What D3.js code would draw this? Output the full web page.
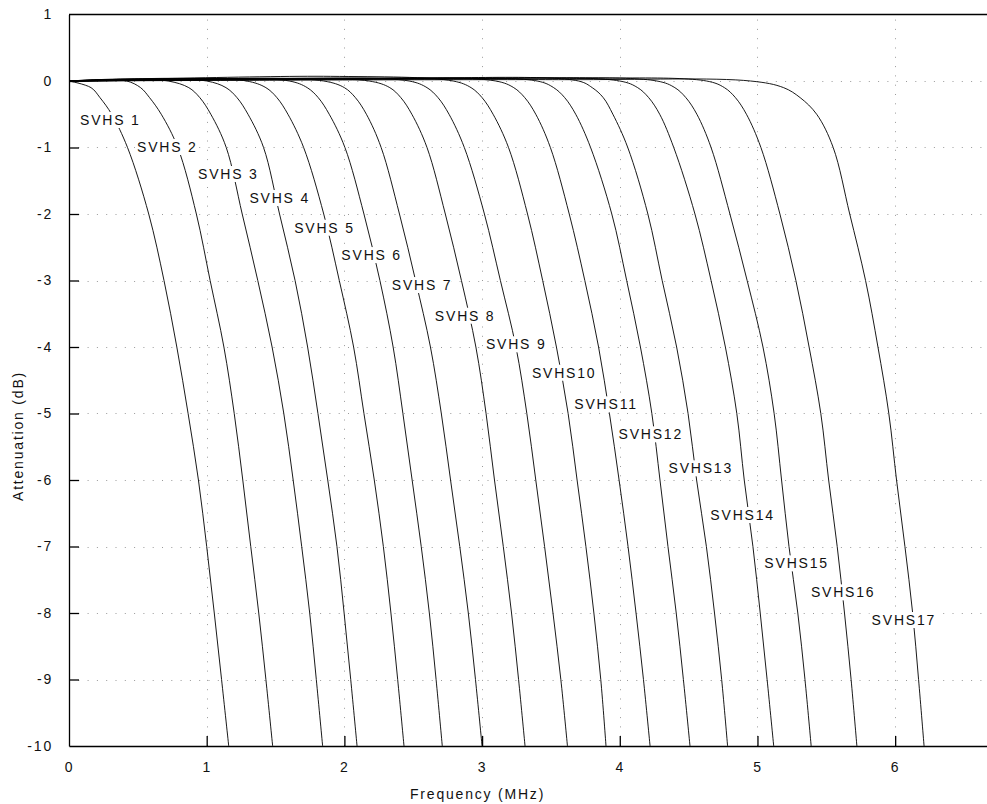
<!DOCTYPE html>
<html>
<head>
<meta charset="utf-8">
<script src="https://cdn.jsdelivr.net/npm/d3@7"></script>
<style>
  body { margin: 0; background: #fff; }
  text { font-family: "Liberation Sans", Arial, sans-serif; font-size: 14px; letter-spacing: 1.8px; fill: #111; }
</style>
</head>
<body>
<svg width="987" height="804"></svg>
<script>
var levels = [0, -0.1, -0.25, -0.5, -1, -2, -3, -4, -5, -6, -7, -8, -9, -10];

var names = ["SVHS 1", "SVHS 2", "SVHS 3", "SVHS 4", "SVHS 5", "SVHS 6", "SVHS 7", "SVHS 8", "SVHS 9",
             "SVHS10", "SVHS11", "SVHS12", "SVHS13", "SVHS14", "SVHS15", "SVHS16", "SVHS17"];

// frequency (MHz) where each filter curve crosses each level above
var crossings = [
  [0,    0.16, 0.225, 0.31, 0.425, 0.579, 0.69,  0.783, 0.865, 0.94,  1.0,   1.055, 1.108, 1.16],
  [0.42, 0.52, 0.585, 0.67, 0.79,  0.925, 1.025, 1.125, 1.2,   1.262, 1.32,  1.378, 1.43,  1.479],
  [0.72, 0.87, 0.95,  1.03, 1.142, 1.258, 1.371, 1.475, 1.56,  1.628, 1.69,  1.748, 1.796, 1.842],
  [1.0,  1.14, 1.22,  1.30, 1.413, 1.529, 1.642, 1.733, 1.808, 1.879, 1.946, 1.998, 2.046, 2.092],
  [1.29, 1.43, 1.51,  1.59, 1.704, 1.85,  1.963, 2.067, 2.142, 2.217, 2.283, 2.338, 2.387, 2.433],
  [1.6,  1.73, 1.81,  1.89, 2.004, 2.142, 2.258, 2.354, 2.425, 2.492, 2.558, 2.617, 2.666, 2.711],
  [1.85, 2.0,  2.08,  2.16, 2.267, 2.4,   2.517, 2.625, 2.704, 2.771, 2.838, 2.9,   2.952, 3.0],
  [2.18, 2.33, 2.41,  2.49, 2.6,   2.733, 2.85,  2.955, 3.029, 3.09,  3.154, 3.214, 3.265, 3.312],
  [2.47, 2.6,  2.68,  2.76, 2.871, 3.017, 3.133, 3.246, 3.325, 3.39,  3.454, 3.515, 3.572, 3.62],
  [2.79, 2.92, 3.0,   3.08, 3.192, 3.33,  3.44,  3.54,  3.625, 3.69,  3.754, 3.812, 3.862, 3.90],
  [3.1,  3.23, 3.31,  3.39, 3.496, 3.633, 3.746, 3.846, 3.925, 3.995, 4.06,  4.118, 4.172, 4.22],
  [3.4,  3.52, 3.6,   3.68, 3.788, 3.942, 4.05,  4.15,  4.233, 4.292, 4.35,  4.41,  4.462, 4.51],
  [3.7,  3.8,  3.88,  3.95, 4.058, 4.204, 4.308, 4.413, 4.496, 4.558, 4.629, 4.688, 4.74,  4.783],
  [4.0,  4.13, 4.21,  4.29, 4.392, 4.546, 4.663, 4.767, 4.85,  4.904, 4.967, 5.02,  5.07,  5.118],
  [4.27, 4.4,  4.48,  4.56, 4.663, 4.8,   4.925, 5.04,  5.121, 5.175, 5.229, 5.293, 5.345, 5.39],
  [4.63, 4.76, 4.84,  4.92, 5.025, 5.163, 5.279, 5.375, 5.46,  5.517, 5.579, 5.632, 5.68,  5.722],
  [4.95, 5.19, 5.31,  5.43, 5.55,  5.67,  5.785, 5.875, 5.954, 6.01,  6.071, 6.127, 6.17,  6.21]
];

// small passband ripple before each knee
var peakFreq = [null, 0.25, 0.4, 0.55, 0.75, 0.95, 1.1, 1.3, 1.5, 1.9, 1.9, 2.1, 2.3, 2.5, 2.9, 3.2, 3.6];
var peakDb   = [null, 0.02, 0.03, 0.03, 0.04, 0.03, 0.04, 0.03, 0.04, 0.07, 0.04, 0.03, 0.04, 0.03, 0.04, 0.03, 0.02];

// where the curve labels sit (MHz, dB)
var labelFreq = [0.080, 0.494, 0.937, 1.310, 1.635, 1.978, 2.344, 2.657, 3.028, 3.362, 3.670, 3.991, 4.354, 4.658, 5.050, 5.388, 5.829];
var labelDb   = [-0.586, -0.992, -1.398, -1.759, -2.206, -2.617, -3.068, -3.529, -3.959, -4.386, -4.862, -5.313, -5.824, -6.526, -7.253, -7.689, -8.105];

var xTicks = [0, 1, 2, 3, 4, 5, 6];
var yTicks = [1, 0, -1, -2, -3, -4, -5, -6, -7, -8, -9, -10];

var svg = d3.select("svg"),
    plotLeft = 69, plotRight = 987, plotTop = 14.5, plotBottom = 746;

var x = d3.scaleLinear().domain([0, 6.667]).range([plotLeft, plotRight]);
var y = d3.scaleLinear().domain([1, -10]).range([plotTop, plotBottom]);

// dotted grid
var grid = svg.append("g")
    .attr("stroke", "#9a9a9a")
    .attr("stroke-width", 1)
    .attr("stroke-dasharray", "1,8.3");

grid.selectAll(".vx")
    .data(xTicks.filter(function(d) { return d > 0; }))
    .enter().append("line")
    .attr("x1", function(d) { return Math.round(x(d)) + 0.5; })
    .attr("x2", function(d) { return Math.round(x(d)) + 0.5; })
    .attr("y1", plotBottom)
    .attr("y2", plotTop);

grid.selectAll(".hy")
    .data(yTicks.filter(function(d) { return d < 1 && d > -10; }))
    .enter().append("line")
    .attr("y1", function(d) { return Math.round(y(d)) + 0.5; })
    .attr("y2", function(d) { return Math.round(y(d)) + 0.5; })
    .attr("x1", plotLeft)
    .attr("x2", plotRight);

// curves
var line = d3.line()
    .x(function(d) { return x(d[0]); })
    .y(function(d) { return y(d[1]); })
    .curve(d3.curveCatmullRom.alpha(0.5));

var curves = crossings.map(function(row, i) {
  var pts = [];
  if (row[0] > 0) {
    pts.push([0, 0]);
    pts.push([peakFreq[i], peakDb[i]]);
  }
  row.forEach(function(f, j) { pts.push([f, levels[j]]); });
  return pts;
});

svg.append("g")
    .attr("fill", "none")
    .attr("stroke", "#000")
    .attr("stroke-width", 0.9)
  .selectAll("path")
  .data(curves)
  .enter().append("path")
    .attr("d", line);

// labels with white boxes hiding the curves underneath
var labels = svg.append("g").selectAll("g")
    .data(names)
    .enter().append("g")
    .attr("transform", function(d, i) {
      return "translate(" + x(labelFreq[i]) + "," + y(labelDb[i]) + ")";
    });

labels.append("text")
    .attr("dy", "0.36em")
    .text(function(d) { return d; });

labels.each(function() {
  var g = d3.select(this),
      b = g.select("text").node().getBBox();
  g.insert("rect", "text")
    .attr("x", b.x - 2)
    .attr("y", b.y)
    .attr("width", b.width + 1)
    .attr("height", b.height)
    .attr("fill", "#fff");
});

// axes
var yAxis = svg.append("g")
    .attr("transform", "translate(" + plotLeft + ",0)")
    .call(d3.axisLeft(y).tickValues(yTicks).tickFormat(d3.format("d")).tickSize(-10).tickSizeOuter(0).tickPadding(16));

var xAxis = svg.append("g")
    .attr("transform", "translate(0," + plotBottom + ")")
    .call(d3.axisBottom(x).tickValues(xTicks).tickFormat(d3.format("d")).tickSize(-10).tickSizeOuter(0).tickPadding(16));

yAxis.selectAll("text").text(function(d) { return String(d); });
[yAxis, xAxis].forEach(function(a) {
  a.select(".domain").attr("stroke-width", 1.3);
  a.selectAll(".tick line").attr("stroke-width", 1.3);
});
xAxis.selectAll(".tick").filter(function(d) { return d === 0; }).select("line").remove();
yAxis.selectAll(".tick").filter(function(d) { return d === 1 || d === -10; }).select("line").remove();

svg.append("line")
    .attr("x1", plotLeft).attr("x2", plotRight)
    .attr("y1", plotTop).attr("y2", plotTop)
    .attr("stroke", "#000")
    .attr("stroke-width", 1.3);

svg.append("text")
    .attr("x", 410)
    .attr("y", 799)
    .text("Frequency (MHz)");

svg.append("text")
    .attr("transform", "translate(23,436) rotate(-90)")
    .attr("text-anchor", "middle")
    .text("Attenuation (dB)");
</script>
</body>
</html>
